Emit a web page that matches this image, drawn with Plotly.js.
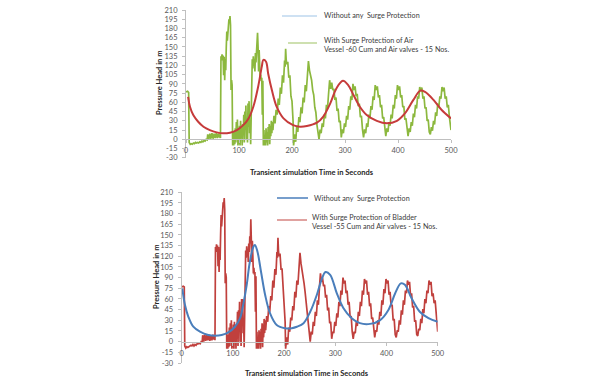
<!DOCTYPE html>
<html>
<head>
<meta charset="utf-8">
<script src="https://cdn.plot.ly/plotly-3.0.1.min.js"></script>
<style>html,body{margin:0;padding:0;background:#fff;}#chart{width:610px;height:383px;}</style>
</head>
<body>
<div id="chart"></div>
<script>
// ---------- data ----------
var xTickVals = [0, 100, 200, 300, 400, 500];
var xTickLabels = ["0", "100", "200", "300", "400", "500"];
var yTickVals = [-30, -15, 0, 15, 30, 45, 60, 75, 90, 105, 120, 135, 150, 165, 180, 195, 210];
var yTickLabels = ["-30", "-15", "0", "15", "30", "45", "60", "75", "90", "105", "120", "135", "150", "165", "180", "195", "210"];

var seriesNoProtection = "Without any  Surge Protection";
var seriesAirVessel = "With Surge Protection of Air<br>Vessel -60 Cum and Air valves - 15 Nos.";
var seriesBladder = "With Surge Protection of Bladder<br>Vessel -55 Cum and Air valves - 15 Nos.";
var xTitle = "Transient simulation Time in Seconds";
var yTitle = "Pressure Head in m";

// top chart: without protection (smooth), time [s] / head [m]
var topSmoothT = [4, 7.5, 14, 23, 33, 45, 58, 70, 83, 96, 108, 118, 127, 136, 143, 146, 151, 155, 162, 171, 184, 202, 215, 228, 247, 259, 272, 284, 296, 306, 316, 328, 341, 360, 379, 398, 413, 429, 442, 451, 467, 482, 500];
var topSmoothV = [69, 53, 39, 28.6, 20.5, 15, 11.3, 9.7, 10.8, 15, 23, 34, 53, 85, 118, 129, 126, 107, 80, 53, 34, 23, 20.5, 21.6, 27, 37, 58, 83, 95, 88, 72, 53, 39.5, 30, 26, 30, 42, 64, 79, 77, 64, 48, 34];

// top chart: with air vessel (noisy) as [time, head]
var topNoisy = [[0,77],[3,78],[5,76],[6,-5],[8,-8],[10,-7],[12,-8],[14,-6],[16,-7],[18,-5],[20,-6],[22,-5],[24,-6],[26,-4],[28,-5],[30,-3],[32,-4],[34,-2],[36,-3],[38,0],
[40,-1],[41,8],[43,0],[45,9],[47,1],[49,10],[51,1],[53,9],[55,2],[57,10],[59,2],[61,9],[63,3],[64,8],[65,2],
[66,135],[67,130],[68,138],[69,128],[70,136],[71,104],[72,134],[73,96],[74,130],[75,112],[76,150],[77,175],[78,160],[79,182],[80,185],[81,195],[82,190],[83,200],[84,185],[85,80],[86,96],[87,88],
[88,-10],[89,5],[90,-10],[91,12],[92,-8],[93,18],[94,-5],[95,28],[96,0],[97,32],[98,-10],[99,15],[100,-8],[101,22],[102,-10],[103,30],[104,5],[105,18],[106,-10],[107,25],[108,10],[109,40],[110,-5],
[111,45],[112,15],[113,55],[114,0],[115,35],[116,-5],[117,58],[118,20],[119,62],[120,10],[121,30],[122,-8],[123,50],[124,110],[125,130],[126,115],[127,135],[128,120],[129,130],[130,110],
[131,140],[132,125],[133,150],[134,140],[135,173],[136,150],[137,110],[138,145],[139,100],[140,98],[141,105],[142,95],[143,100],[144,40],[145,95],
[146,-10],[147,15],[148,-10],[149,5],[150,-10],[151,18],[152,-5],[153,12],[154,-10],[155,20],[156,0],[157,25],[158,-8],[159,22],[160,5],[161,30],[162,10],[163,28],[164,15],
[166,38],[168,26],[170,48],[172,40],[174,66],[176,56],[178,84],[180,74],[182,104],[184,92],[186,128],[187,118],[188,147],[189,130],[190,122],[192,126],[194,100],[196,104],[198,70],[200,62],[202,30],
[203,-10],[205,8],[207,-4],[209,22],[211,12],[213,36],[215,28],[217,52],[219,42],[221,68],[223,60],[225,88],[227,78],[229,108],[231,127],[233,112],[235,104],[237,96],[239,80],[241,72],[243,52],[245,44],[247,24],[249,14],
[251,0],[253,16],[255,10],[257,26],[259,20],[261,40],[263,34],[265,56],[267,50],[269,74],[271,96],[273,82],[275,92],[277,80],[279,82],[281,64],[283,68],[285,46],[287,50],[289,28],[291,30],
[293,3],[295,16],[297,10],[299,26],[301,20],[303,38],[305,32],[307,54],[309,48],[311,70],[313,64],[315,90],[317,80],[319,86],[321,70],[323,74],[325,54],[327,58],[329,36],[331,38],[333,16],
[335,3],[337,16],[339,10],[341,26],[343,20],[345,40],[347,34],[349,54],[351,48],[353,70],[355,64],[357,88],[359,80],[361,86],[363,68],[365,72],[367,52],[369,56],[371,34],[373,36],[375,14],
[377,5],[379,18],[381,12],[383,28],[385,22],[387,40],[389,34],[391,56],[393,50],[395,72],[397,66],[399,88],[401,80],[403,86],[405,68],[407,72],[409,52],[411,54],[413,32],[415,34],[417,12],
[419,5],[421,18],[423,12],[425,28],[427,22],[429,42],[431,36],[433,56],[435,50],[437,70],[439,66],[441,85],[443,78],[445,84],[447,66],[449,70],[451,50],[453,52],[455,30],[457,32],[459,12],
[461,8],[463,20],[465,14],[467,30],[469,24],[471,44],[473,38],[475,58],[477,52],[479,70],[481,66],[483,85],[485,78],[487,84],[489,66],[491,70],[493,52],[495,56],[497,36],[499,22],[500,15]];

// bottom chart: without protection (smooth)
var botSmoothT = [1.2, 6.4, 13, 22.7, 35.7, 52, 65, 78, 91, 104, 114, 120, 127, 133, 140, 143, 148, 155, 163, 172.5, 185.5, 202, 215, 225, 238, 251, 264, 273, 281, 290, 303, 316, 332, 348, 368, 387, 404, 417, 428, 436, 449, 465, 482, 500];
var botSmoothV = [75, 51.6, 35, 21, 14, 9.4, 8.4, 9.4, 13, 21, 33, 51.6, 80, 112, 133.5, 136, 126.5, 98, 65.6, 40, 23.5, 19, 19, 21, 26, 42, 66, 87, 98, 94, 68, 47, 33, 26, 25, 30, 45, 68, 82, 80, 61, 42, 33, 28];

// bottom chart: with bladder vessel (noisy) as [time, head]
var botNoisy = [[0,77],[3,78],[5,77],[6,-6],[8,-9],[10,-7],[12,-8],[14,-7],[16,-6],[18,-5],[20,-6],[22,-4],[24,-6],[26,-4],[28,-5],[30,-3],[32,-3],[34,-2],[36,-3],[38,0],
[40,-1],[41,9],[43,0],[45,10],[47,1],[49,9],[51,2],[53,10],[55,1],[57,9],[59,2],[61,10],[63,3],[64,9],[65,2],
[66,133],[67,128],[68,137],[69,126],[70,135],[71,106],[72,133],[73,98],[74,128],[75,115],[76,150],[77,178],[78,162],[79,183],[80,186],[81,196],[82,190],[83,202],[84,186],[85,82],[86,96],[87,90],
[88,-10],[89,6],[90,-10],[91,10],[92,-8],[93,20],[94,-6],[95,26],[96,0],[97,30],[98,-10],[99,14],[100,-8],[101,24],[102,-10],[103,28],[104,4],[105,20],[106,-10],[107,24],[108,12],[109,42],[110,-6],
[111,44],[112,14],[113,56],[114,0],[115,36],[116,-6],[117,60],[118,22],[119,60],[120,12],[121,28],[122,-8],[123,52],[124,112],[125,128],[126,118],[127,134],[128,122],[129,128],[130,112],
[131,138],[132,126],[133,148],[134,138],[135,172],[136,148],[137,112],[138,142],[139,100],[140,96],[141,104],[142,94],[143,98],[144,42],[145,92],
[146,-10],[147,14],[148,-10],[149,6],[150,-10],[151,16],[152,-4],[153,14],[154,-10],[155,18],[156,2],[157,26],[158,-8],[159,24],[160,6],[161,32],[162,12],[163,30],[164,16],
[166,36],[168,28],[170,50],[172,42],[174,64],[176,58],[178,86],[180,76],[182,102],[184,94],[186,126],[187,118],[188,146],[189,128],[190,120],[192,124],[194,102],[196,102],[198,72],[200,60],[202,28],
[203,-10],[205,6],[207,-4],[209,20],[211,14],[213,34],[215,30],[217,50],[219,44],[221,70],[223,62],[225,86],[227,80],[229,106],[231,125],[233,110],[235,102],[237,94],[239,82],[241,70],[243,54],[245,42],[247,26],[249,12],
[251,0],[253,14],[255,10],[257,28],[259,22],[261,42],[263,36],[265,58],[267,52],[269,76],[271,96],[273,84],[275,90],[277,78],[279,80],[281,62],[283,66],[285,44],[287,48],[289,26],[291,28],
[293,4],[295,14],[297,12],[299,28],[301,22],[303,40],[305,34],[307,56],[309,50],[311,72],[313,66],[315,90],[317,82],[319,86],[321,68],[323,72],[325,52],[327,56],[329,34],[331,36],[333,14],
[335,4],[337,14],[339,12],[341,28],[343,22],[345,42],[347,36],[349,56],[351,50],[353,72],[355,66],[357,88],[359,82],[361,86],[363,66],[365,70],[367,50],[369,54],[371,32],[373,34],[375,12],
[377,6],[379,16],[381,14],[383,30],[385,24],[387,42],[389,36],[391,58],[393,52],[395,74],[397,68],[399,88],[401,82],[403,86],[405,66],[407,70],[409,50],[411,52],[413,30],[415,32],[417,10],
[419,6],[421,16],[423,14],[425,30],[427,24],[429,44],[431,38],[433,58],[435,52],[437,72],[439,68],[441,86],[443,80],[445,84],[447,64],[449,68],[451,48],[453,50],[455,28],[457,30],[459,10],
[461,8],[463,18],[465,16],[467,32],[469,26],[471,46],[473,40],[475,60],[477,54],[479,72],[481,68],[483,86],[485,80],[487,84],[489,64],[491,68],[493,54],[495,58],[497,38],[499,24],[500,14]];

// ---------- chart ----------
var W = 610, H = 383;
function px(x) { return x / W; }
function py(y) { return 1 - y / H; }
function col(arr, i) { return arr.map(function (p) { return p[i]; }); }

var baseFont = "Lato, Liberation Sans, Arial, sans-serif";

var traces = [
  { x: col(topNoisy, 0), y: col(topNoisy, 1), xaxis: 'x', yaxis: 'y', mode: 'lines', line: { color: '#8cb83e', width: 1.7 }, hoverinfo: 'skip' },
  { x: topSmoothT, y: topSmoothV, xaxis: 'x', yaxis: 'y', mode: 'lines', line: { color: '#c63b3b', width: 2, shape: 'spline' }, hoverinfo: 'skip' },
  { x: col(botNoisy, 0), y: col(botNoisy, 1), xaxis: 'x2', yaxis: 'y2', mode: 'lines', line: { color: '#c0403d', width: 1.7 }, hoverinfo: 'skip' },
  { x: botSmoothT, y: botSmoothV, xaxis: 'x2', yaxis: 'y2', mode: 'lines', line: { color: '#4a7ebb', width: 2, shape: 'spline' }, hoverinfo: 'skip' }
];

function xAxis(dom, pos) {
  return {
    domain: dom, range: [0, 500], anchor: 'free', position: pos,
    showline: true, linecolor: '#bfbfbf', linewidth: 1,
    ticks: 'outside', ticklen: 3, tickcolor: '#bfbfbf',
    tickvals: xTickVals, ticktext: xTickLabels, ticklabelstandoff: 1,
    tickfont: { family: baseFont, size: 7.5, color: '#595959' },
    showgrid: false, zeroline: false, fixedrange: true
  };
}
function yAxis(dom, anchor) {
  return {
    domain: dom, range: [-30, 210], anchor: anchor,
    showline: true, linecolor: '#bfbfbf', linewidth: 1,
    ticks: 'outside', ticklen: 3, tickcolor: '#bfbfbf',
    tickvals: yTickVals, ticktext: yTickLabels, ticklabelstandoff: 3,
    tickfont: { family: baseFont, size: 7.5, color: '#595959' },
    showgrid: false, zeroline: false, fixedrange: true
  };
}

var legFont = { family: baseFont, size: 7.2, color: '#404040' };
var titleFont = { family: baseFont, size: 7.5, color: '#262626', weight: 'bold' };

var layout = {
  width: W, height: H,
  margin: { l: 0, r: 0, t: 0, b: 0 },
  paper_bgcolor: '#ffffff', plot_bgcolor: 'rgba(0,0,0,0)',
  showlegend: false,
  xaxis: xAxis([px(186), px(451)], py(139.3)),
  yaxis: yAxis([py(157.8), py(10)], 'x'),
  xaxis2: xAxis([px(181.7), px(437.7)], py(341.7)),
  yaxis2: yAxis([py(363), py(192.3)], 'x2'),
  shapes: [
    { type: 'line', xref: 'paper', yref: 'paper', x0: px(282), x1: px(317), y0: py(16), y1: py(16), line: { color: '#9dc3e6', width: 1 } },
    { type: 'line', xref: 'paper', yref: 'paper', x0: px(288), x1: px(317), y0: py(43), y1: py(43), line: { color: '#b3cf85', width: 1.3 } },
    { type: 'line', xref: 'paper', yref: 'paper', x0: px(277), x1: px(308), y0: py(198), y1: py(198), line: { color: '#4a7ebb', width: 1.5 } },
    { type: 'line', xref: 'paper', yref: 'paper', x0: px(277), x1: px(307), y0: py(220), y1: py(220), line: { color: '#d0706c', width: 1.3 } }
  ],
  annotations: [
    { xref: 'paper', yref: 'paper', x: px(322), y: py(16), xanchor: 'left', yanchor: 'middle', text: seriesNoProtection, showarrow: false, font: legFont },
    { xref: 'paper', yref: 'paper', x: px(322), y: py(45), xanchor: 'left', yanchor: 'middle', align: 'left', text: seriesAirVessel, showarrow: false, font: legFont },
    { xref: 'paper', yref: 'paper', x: px(312), y: py(198), xanchor: 'left', yanchor: 'middle', text: seriesNoProtection, showarrow: false, font: legFont },
    { xref: 'paper', yref: 'paper', x: px(310), y: py(222.5), xanchor: 'left', yanchor: 'middle', align: 'left', text: seriesBladder, showarrow: false, font: legFont },
    { xref: 'paper', yref: 'paper', x: px(160), y: py(83), xanchor: 'center', yanchor: 'middle', textangle: -90, text: yTitle, showarrow: false, font: titleFont },
    { xref: 'paper', yref: 'paper', x: px(156), y: py(277), xanchor: 'center', yanchor: 'middle', textangle: -90, text: yTitle, showarrow: false, font: titleFont },
    { xref: 'paper', yref: 'paper', x: px(312), y: py(172), xanchor: 'center', yanchor: 'middle', text: xTitle, showarrow: false, font: titleFont },
    { xref: 'paper', yref: 'paper', x: px(307), y: py(373), xanchor: 'center', yanchor: 'middle', text: xTitle, showarrow: false, font: titleFont }
  ]
};

Plotly.newPlot('chart', traces, layout, { staticPlot: true, displayModeBar: false });
</script>
</body>
</html>
